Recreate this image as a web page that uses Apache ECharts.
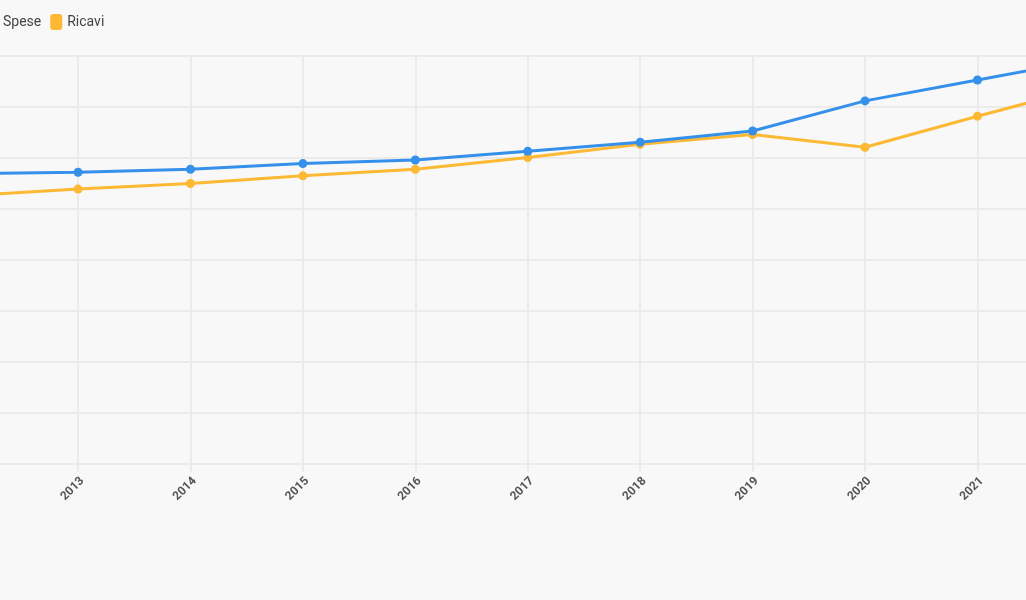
<!DOCTYPE html>
<html>
<head>
<meta charset="utf-8">
<script src="https://cdn.jsdelivr.net/npm/echarts@6/dist/echarts.min.js"></script>
<style>
html,body{margin:0;padding:0;background:#f8f8f8;}
#chart{width:1026px;height:600px;}
</style>
</head>
<body>
<div id="chart"></div>
<script>
var years = ['2012','2013','2014','2015','2016','2017','2018','2019','2020','2021','2022'];
var spese = [569, 572, 578, 589, 596, 613, 631, 653, 712, 753, 794];
var ricavi = [526, 539, 550, 565, 578, 601, 627, 646, 621, 682, 740];
var seriesNames = ['Spese', 'Ricavi'];
var colors = ['#3490ea', '#fdb834'];

var chart = echarts.init(document.getElementById('chart'));
chart.setOption({
  backgroundColor: '#f8f8f8',
  color: colors,
  textStyle: { fontFamily: 'Roboto' },
  legend: {
    left: -19, top: 9,
    icon: 'roundRect',
    itemWidth: 12, itemHeight: 16, itemGap: 9,
    textStyle: { fontSize: 14, color: '#444', fontFamily: 'Roboto' },
    data: seriesNames
  },
  grid: { left: -34.4, right: -63.9, top: 56, bottom: 136, containLabel: false, outerBoundsMode: 'none' },
  xAxis: {
    type: 'category',
    data: years,
    boundaryGap: false,
    axisLine: { lineStyle: { color: '#ebebeb', width: 2 } },
    axisTick: { show: true, length: 8, lineStyle: { color: '#ebebeb', width: 2 } },
    splitLine: { show: true, lineStyle: { color: '#ebebeb', width: 2 } },
    axisLabel: { rotate: 45, color: '#555', fontSize: 12, fontWeight: 'bold', margin: 11,
      verticalAlign: 'top', align: 'right', fontFamily: 'Roboto' }
  },
  yAxis: {
    type: 'value',
    min: 0, max: 800, interval: 100,
    axisLine: { show: false },
    axisTick: { show: false },
    axisLabel: { show: false },
    splitLine: { lineStyle: { color: '#ebebeb', width: 2 } }
  },
  series: [
    { name: seriesNames[0], type: 'line', data: spese, symbol: 'circle', symbolSize: 9,
      lineStyle: { width: 3 }, z: 3 },
    { name: seriesNames[1], type: 'line', data: ricavi, symbol: 'circle', symbolSize: 9,
      lineStyle: { width: 3 }, z: 2 }
  ]
});
</script>
</body>
</html>
